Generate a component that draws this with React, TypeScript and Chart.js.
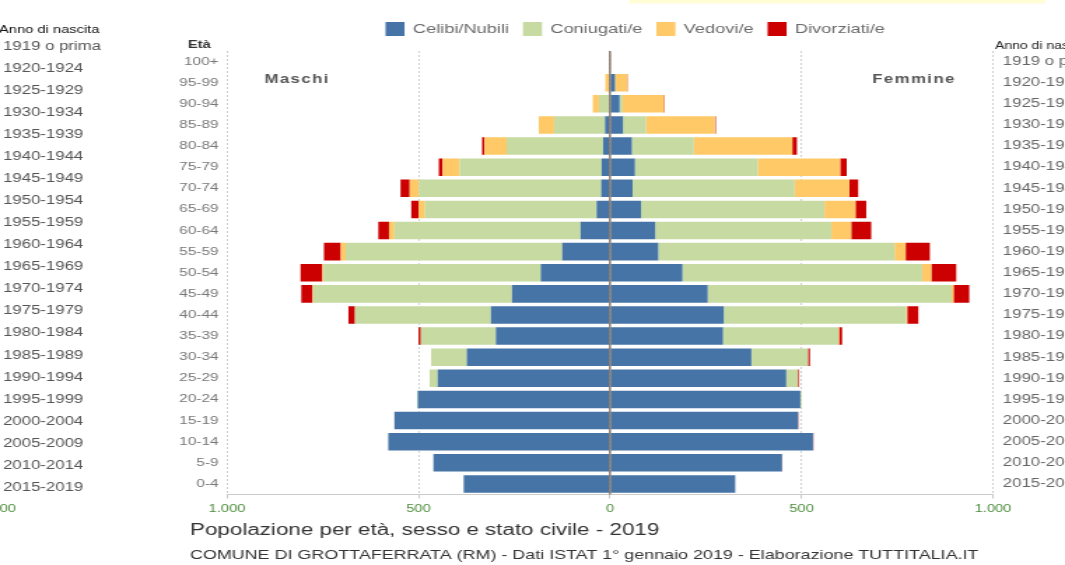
import React, { useEffect, useRef } from 'react';
import { Chart, registerables } from 'chart.js';

Chart.register(...registerables);

const ageGroups = ['100+', '95-99', '90-94', '85-89', '80-84', '75-79', '70-74', '65-69', '60-64', '55-59', '50-54', '45-49', '40-44', '35-39', '30-34', '25-29', '20-24', '15-19', '10-14', '5-9', '0-4'];
const birthYears = ['1919 o prima', '1920-1924', '1925-1929', '1930-1934', '1935-1939', '1940-1944', '1945-1949', '1950-1954', '1955-1959', '1960-1964', '1965-1969', '1970-1974', '1975-1979', '1980-1984', '1985-1989', '1990-1994', '1995-1999', '2000-2004', '2005-2009', '2010-2014', '2015-2019'];

const seriesNames = ['Celibi/Nubili', 'Coniugati/e', 'Vedovi/e', 'Divorziati/e'];
const seriesColors = ['#4674a6', '#c6daa2', '#fec966', '#cc0000'];

// Maschi (left side)
const maleCelibi = [0, 2, 2, 13, 18, 22, 23, 35, 77, 125, 181, 256, 311, 298, 374, 450, 502, 563, 579, 461, 382];
const maleConiugati = [0, 1, 27, 133, 252, 371, 476, 448, 486, 565, 567, 519, 355, 196, 93, 21, 2, 0, 0, 0, 0];
const maleVedovi = [0, 9, 16, 40, 58, 44, 24, 17, 14, 13, 3, 2, 0, 0, 0, 0, 0, 0, 0, 0, 0];
const maleDivorziati = [0, 0, 0, 0, 6, 10, 24, 19, 28, 44, 57, 29, 17, 6, 0, 0, 0, 0, 0, 0, 0];

// Femmine (right side)
const femCelibi = [0, 13, 25, 34, 57, 65, 59, 81, 118, 126, 189, 255, 297, 295, 369, 460, 497, 491, 530, 449, 327];
const femConiugati = [0, 0, 8, 60, 162, 321, 423, 479, 460, 617, 626, 637, 476, 301, 148, 31, 3, 0, 0, 0, 0];
const femVedovi = [1, 32, 108, 180, 257, 215, 143, 81, 52, 29, 24, 5, 3, 2, 0, 0, 0, 0, 0, 0, 0];
const femDivorziati = [0, 1, 2, 2, 12, 17, 23, 28, 52, 63, 65, 41, 29, 8, 5, 3, 0, 1, 1, 1, 0];

const xTickValues = [-1000, -500, 0, 500, 1000];

const titleText = 'Popolazione per età, sesso e stato civile - 2019';
const subtitleText = 'COMUNE DI GROTTAFERRATA (RM) - Dati ISTAT 1° gennaio 2019 - Elaborazione TUTTITALIA.IT';

const FONT = '"Liberation Sans", Arial, Helvetica, sans-serif';
const CANVAS_W = 761;
const CANVAS_H = 565;
const S = 1065 / CANVAS_W; // horizontal stretch of the picture
const px = (x: number) => x / S;

const fmt = (v: number) => {
  const a = Math.abs(v);
  return a >= 1000 ? String(a).replace(/\B(?=(\d{3})+(?!\d))/g, '.') : String(a);
};

const decorPlugin = {
  id: 'decor',
  afterDraw(chart: any) {
    const ctx = chart.ctx as CanvasRenderingContext2D;
    const area = chart.chartArea;
    const xs = chart.scales.x;
    ctx.save();

    // centre line
    const x0 = xs.getPixelForValue(0);
    ctx.strokeStyle = '#7a6c61';
    ctx.lineWidth = 1.3;
    ctx.beginPath();
    ctx.moveTo(x0, area.top);
    ctx.lineTo(x0, area.bottom);
    ctx.stroke();

    // yellow band at the top
    ctx.fillStyle = '#fffcd6';
    ctx.fillRect(px(629), 0, px(1045) - px(629), 3.5);

    // legend
    ctx.textBaseline = 'middle';
    ctx.textAlign = 'left';
    ctx.font = `13px ${FONT}`;
    let lx = px(385.5);
    const boxW = px(19);
    for (let i = 0; i < 4; i++) {
      const ds = chart.data.datasets[i];
      ctx.fillStyle = ds.backgroundColor;
      ctx.fillRect(lx, 22, boxW, 14);
      ctx.fillStyle = '#6a6a6a';
      ctx.fillText(ds.label, lx + boxW + 6, 29);
      lx += boxW + 6 + ctx.measureText(ds.label).width + 10;
    }

    // left column (birth years)
    ctx.fillStyle = '#111';
    ctx.font = `10.5px ${FONT}`;
    ctx.fillText('Anno di nascita', px(-1), 30);
    ctx.fillStyle = '#555';
    ctx.font = `12px ${FONT}`;
    birthYears.forEach((t, i) => ctx.fillText(t, px(3), 46.5 + i * 22.05));
    ctx.fillStyle = '#4d8c3c';
    ctx.font = `10.5px ${FONT}`;
    ctx.textAlign = 'right';
    ctx.fillText('1.000', px(16), 509);

    // right column header
    ctx.textAlign = 'left';
    ctx.fillStyle = '#222';
    ctx.font = `10px ${FONT}`;
    ctx.fillText('Anno di nascita', px(995), 46);

    // Età
    ctx.fillStyle = '#333';
    ctx.font = `bold 10.5px ${FONT}`;
    ctx.fillText('Età', px(188), 45);

    // Maschi / Femmine
    ctx.fillStyle = '#555';
    ctx.font = `bold 12px ${FONT}`;
    (ctx as any).letterSpacing = '1px';
    ctx.textAlign = 'center';
    ctx.fillText('Maschi', px(297), 80);
    ctx.fillText('Femmine', px(914), 80);
    (ctx as any).letterSpacing = '0px';

    // title and subtitle
    ctx.textAlign = 'left';
    ctx.fillStyle = '#333';
    ctx.font = `16px ${FONT}`;
    ctx.fillText(titleText, px(190), 531);
    ctx.font = `12.8px ${FONT}`;
    ctx.fillText(subtitleText, px(190), 555);

    ctx.restore();
  },
};

export default function App() {
  const ref = useRef<HTMLCanvasElement | null>(null);

  useEffect(() => {
    if (!ref.current) return;
    const neg = (a: number[]) => a.map((v) => -v);
    const maleSeries = [maleCelibi, maleConiugati, maleVedovi, maleDivorziati];
    const femSeries = [femCelibi, femConiugati, femVedovi, femDivorziati];
    const datasets: any[] = [];
    maleSeries.forEach((d, i) =>
      datasets.push({
        label: seriesNames[i],
        data: neg(d),
        backgroundColor: seriesColors[i],
        borderWidth: 0,
        barPercentage: 0.83,
        categoryPercentage: 1,
      })
    );
    femSeries.forEach((d, i) =>
      datasets.push({
        label: seriesNames[i],
        data: d,
        backgroundColor: seriesColors[i],
        borderWidth: 0,
        barPercentage: 0.83,
        categoryPercentage: 1,
      })
    );

    const chart = new Chart(ref.current, {
      type: 'bar',
      data: { labels: ageGroups, datasets },
      plugins: [decorPlugin],
      options: {
        indexAxis: 'y',
        responsive: false,
        maintainAspectRatio: false,
        devicePixelRatio: 1,
        animation: false,
        layout: { padding: { top: 51, left: 0, right: 0, bottom: 0 } },
        plugins: {
          legend: { display: false },
          tooltip: { enabled: false },
          title: { display: false },
        },
        scales: {
          x: {
            type: 'linear',
            stacked: true,
            min: -1000,
            max: 1000,
            z: 1,
            afterBuildTicks: (s: any) => {
              s.ticks = xTickValues.map((v) => ({ value: v }));
            },
            afterFit: (s: any) => {
              s.height = 70.5;
            },
            ticks: {
              callback: (v: any) => fmt(Number(v)),
              color: '#4d8c3c',
              font: { family: FONT, size: 10.5 },
              padding: 4,
              maxRotation: 0,
              autoSkip: false,
            },
            grid: {
              color: '#cfcfcf',
              lineWidth: 1,
              drawTicks: true,
              tickLength: 4,
              tickColor: '#c8c8c8',
              tickBorderDash: [],
            },
            border: { display: true, color: '#cccccc', width: 1, dash: [2, 2] },
          },
          y: {
            type: 'category',
            stacked: true,
            position: 'left',
            afterFit: (s: any) => {
              s.width = px(227);
            },
            ticks: {
              color: '#777',
              font: { family: FONT, size: 11 },
              padding: 6,
              autoSkip: false,
            },
            grid: { display: false, drawTicks: false },
            border: { display: false },
          },
          y2: {
            type: 'category',
            position: 'right',
            labels: birthYears,
            offset: true,
            afterFit: (s: any) => {
              s.width = CANVAS_W - px(993);
            },
            ticks: {
              color: '#666',
              font: { family: FONT, size: 12 },
              padding: 7,
              autoSkip: false,
            },
            grid: { display: false, drawTicks: false },
            border: { display: false },
          },
        },
      } as any,
    });
    return () => chart.destroy();
  }, []);

  return (
    <div style={{ position: 'fixed', left: 0, top: 0, width: 1065, height: 565, background: '#fff', overflow: 'hidden' }}>
      <canvas
        ref={ref}
        width={CANVAS_W}
        height={CANVAS_H}
        style={{ width: '1065px', height: '565px', display: 'block' }}
      />
    </div>
  );
}
